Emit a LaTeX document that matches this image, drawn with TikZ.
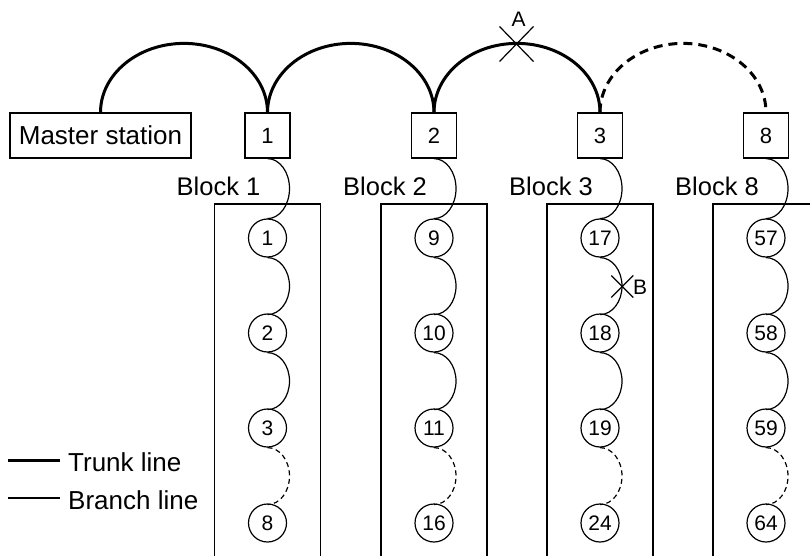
\documentclass[tikz,border=0pt]{standalone}
\usepackage{fontspec}
\setmainfont{Liberation Sans}
\begin{document}
\begin{tikzpicture}[x=1pt,y=1pt,
  trunk/.style={line width=3pt},
  branch/.style={line width=1.2pt},
  frame/.style={draw, line width=1.2pt, inner sep=0pt},
  station/.style={frame, minimum width=45pt, minimum height=45pt,
    font=\fontsize{22}{24}\selectfont},
  terminal/.style={circle, draw, line width=1.2pt, minimum size=38pt,
    inner sep=0pt, font=\fontsize{21}{23}\selectfont},
  biglabel/.style={font=\fontsize{26}{30}\selectfont, inner sep=0pt},
  blocklabel/.style={font=\fontsize{25.5}{30}\selectfont, inner sep=0pt},
  marklabel/.style={font=\fontsize{21}{24}\selectfont, inner sep=0pt},
  cut/.style={line width=1.2pt},
  ]
\useasboundingbox (0,0) rectangle (810,-556);
\clip (0,0) rectangle (810,-556);

% master station and block stations
\node[frame, minimum width=181pt, minimum height=45pt,
      font=\fontsize{26}{30}\selectfont] (m) at (100.5,-135.5) {Master station};
\foreach \n/\x in {1/267.5,2/434,3/600,8/766}
  \node[station] (s\n) at (\x,-135.5) {\n};

% trunk line
\draw[trunk] (m.north) arc[start angle=180,end angle=0,x radius=83.5,y radius=69];
\draw[trunk] (s1.north) arc[start angle=180,end angle=0,x radius=83.25,y radius=69];
\draw[trunk] (s2.north) arc[start angle=180,end angle=0,x radius=83,y radius=69];
\draw[trunk,dash pattern=on 9pt off 6pt] (s3.north)
  arc[start angle=180,end angle=0,x radius=83,y radius=69];

% blocks with their terminals and branch lines
\foreach \k/\x/\a/\b/\c/\d in {1/267.5/1/2/3/8, 2/434/9/10/11/16,
                               3/600/17/18/19/24, 8/766/57/58/59/64}{
  \draw[branch] ({\x-53},-600) |- ({\x+53},-204) -- ({\x+53},-600);
  \node[blocklabel, anchor=base east] (lbl\k) at ({\x-7},-195) {Block \k};
  \node[terminal] (t\k-1) at (\x,-238) {\a};
  \node[terminal] (t\k-2) at (\x,-333) {\b};
  \node[terminal] (t\k-3) at (\x,-428) {\c};
  \node[terminal] (t\k-4) at (\x,-523) {\d};
  \draw[branch] (s\k.south) arc[start angle=90,end angle=-90,x radius=22,y radius=30];
  \draw[branch] (t\k-1.south) arc[start angle=90,end angle=-90,x radius=22,y radius=28.5];
  \draw[branch] (t\k-2.south) arc[start angle=90,end angle=-90,x radius=22,y radius=28.5];
  \draw[branch,dash pattern=on 5pt off 3.5pt] (t\k-3.south)
    arc[start angle=90,end angle=-90,x radius=22,y radius=28.5];
}

% break points A and B
\coordinate (xa) at (516.5,-44);
\draw[cut] (xa) +(-17,17.5) -- +(17,-17.5) +(-17,-17.5) -- +(17,17.5);
\node[marklabel, anchor=base] (la) at (518.5,-26.7) {A};
\coordinate (xb) at (622.3,-286.5);
\draw[cut] (xb) +(-11,11) -- +(11,-11) +(-11,-11) -- +(11,11);
\node[marklabel, anchor=base west] (lb) at (633,-294) {B};

% legend
\coordinate (k1a) at (8,-460.7);
\coordinate (k1b) at (60,-460.7);
\coordinate (k2a) at (8,-498);
\coordinate (k2b) at (60,-498);
\draw[trunk] (k1a) -- (k1b);
\draw[branch] (k2a) -- (k2b);
\node[biglabel, anchor=base west] (lt) at (68,-471.7) {Trunk line};
\node[biglabel, anchor=base west] (lbr) at (68,-509) {Branch line};
\end{tikzpicture}
\end{document}
